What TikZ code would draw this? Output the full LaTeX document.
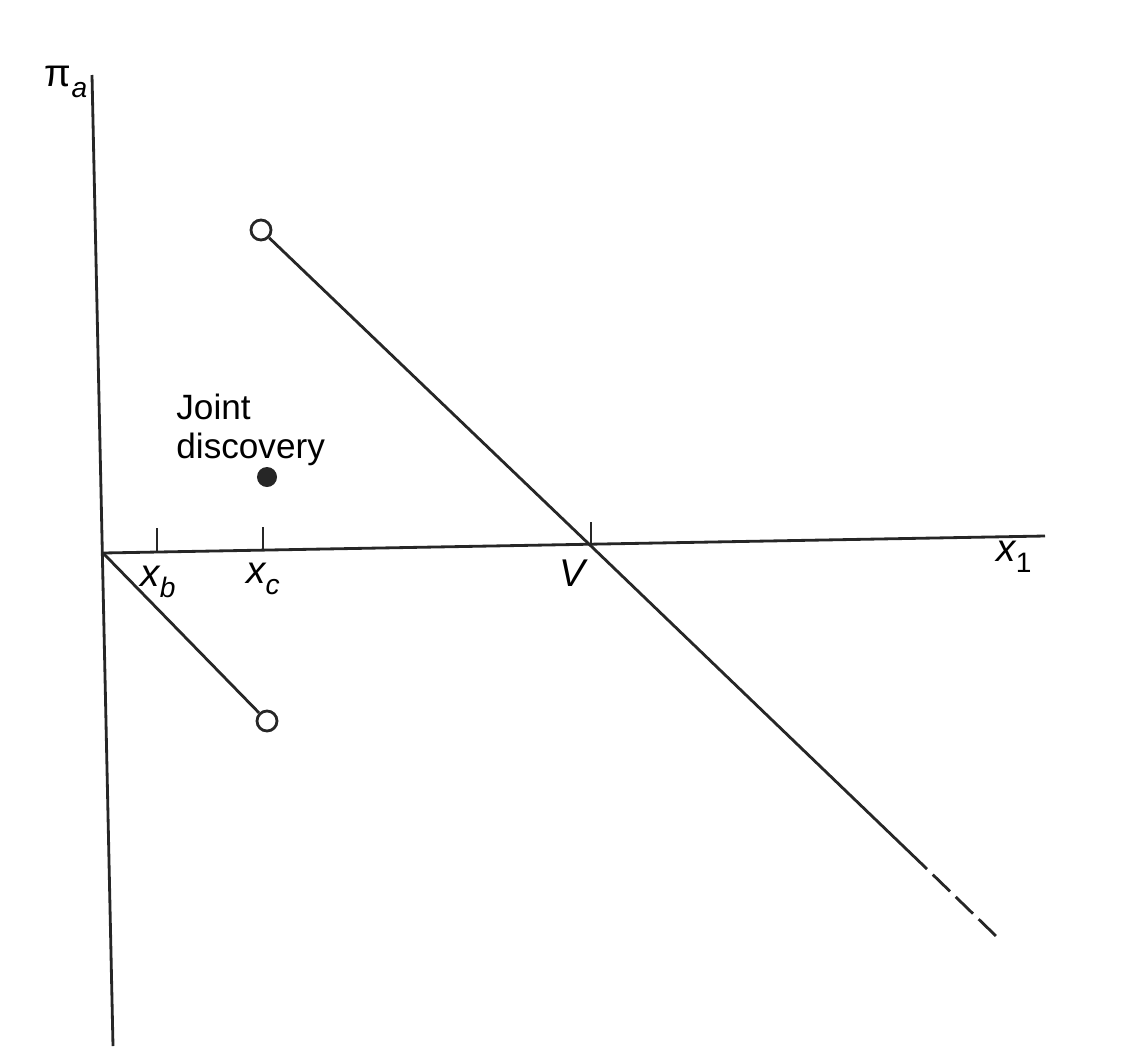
\documentclass[tikz,border=0pt]{standalone}
\usepackage{fontspec}
\setmainfont{Liberation Sans}
\usetikzlibrary{positioning}
\newcommand{\sublbl}[2]{{#1}\raisebox{-0.55ex}{\fontsize{8}{9}\selectfont #2}}

\begin{document}
\begin{tikzpicture}[x=0.01cm, y=-0.01cm, line width=0.8pt, draw=black!85,
  font=\fontsize{10}{11}\selectfont,
  opendot/.style={circle, draw, fill=white, inner sep=0pt, minimum size=0.2cm, line width=0.8pt},
  fulldot/.style={circle, fill=black!85, inner sep=0pt, minimum size=0.2cm},
  axlabel/.style={inner sep=1pt, font=\fontsize{11}{12}\selectfont}]
\useasboundingbox (0,0) rectangle (1139,1057);
% axes
\coordinate (o) at (103,553);
\coordinate (ytop) at (92,75);
\coordinate (ybot) at (113,1046);
\coordinate (xend) at (1045,536);
\draw (ybot) -- (ytop);
\draw (o) -- (xend);
% tick marks
\foreach \name/\x/\y in {xb/157/552, xc/263/551, v/591/546}
  \draw (\x,\y) coordinate (\name) -- ++(0,-24);
% axis labels
\node[axlabel] (pilbl) at (66,82) {\sublbl{π}{\itshape a}};
\node[axlabel] (xblbl) at (158,582) {\sublbl{\itshape x}{\itshape b}};
\node[axlabel] (xclbl) at (263,579) {\sublbl{\itshape x}{\itshape c}};
\node[axlabel] (vlbl) at (572,573) {\itshape V};
\node[axlabel] (x1lbl) at (1014,557) {\sublbl{\itshape x}{1}};
% open and full dots
\node[opendot] (hi) at (261,230) {};
\node[opendot] (lo) at (267,721) {};
\node[fulldot] (joint) at (267,477) {};
\node[anchor=north west, inner sep=0pt, align=left] (jointlbl) at (175,393) {Joint\\discovery};
% payoff lines
\coordinate (solidend) at (927,869);
\coordinate (dashend) at (997,937);
\draw (hi) -- (v) -- (solidend);
\draw[dash pattern=on 0.24cm off 0.08cm, dash phase=0.24cm] (solidend) -- (dashend);
\draw (o) -- (lo);
\end{tikzpicture}
\end{document}
